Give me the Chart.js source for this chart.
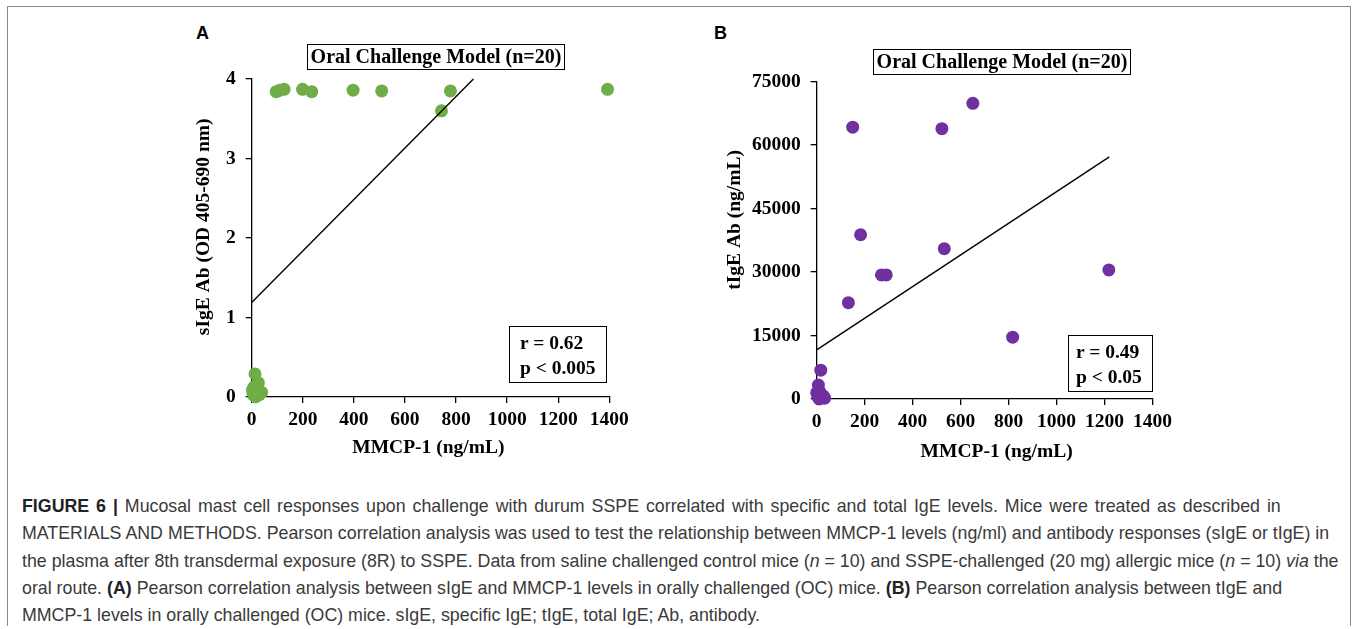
<!DOCTYPE html>
<html>
<head>
<meta charset="utf-8">
<script src="https://cdn.jsdelivr.net/npm/chart.js@4.4.1/dist/chart.umd.min.js"></script>
<style>
  body { margin: 0; background: #fff; width: 1357px; height: 629px; position: relative; overflow: hidden; }
  .frame { position: absolute; left: 7px; top: 6px; width: 1344px; height: 620px; border: 1.5px solid #8a8a8a; border-bottom: none; box-sizing: border-box; }
  canvas { position: absolute; }
  .panel { position: absolute; font-family: 'Liberation Sans', Arial, sans-serif; font-weight: bold; font-size: 18px; }
  .tbox { position: absolute; box-sizing: border-box; border: 1.5px solid #000; font-family: 'Liberation Serif', 'Times New Roman', serif; font-weight: bold; font-size: 20px; text-align: center; line-height: 23px; white-space: nowrap; }
  .rbox { position: absolute; box-sizing: border-box; border: 1.5px solid #000; font-family: 'Liberation Serif', 'Times New Roman', serif; font-weight: bold; font-size: 19.5px; line-height: 25px; white-space: nowrap; }
  .caption { position: absolute; left: 22px; top: 493px; font-family: 'Liberation Sans', Arial, sans-serif; font-size: 17.8px; line-height: 27.3px; color: #3a3a3a; white-space: nowrap; }
  .caption b { color: #222; }
</style>
</head>
<body>
<div class="frame"></div>

<div class="panel" style="left:196px;top:23px">A</div>
<div class="panel" style="left:714px;top:23px">B</div>

<canvas id="chartA" width="490" height="420" style="left:150px;top:50px;width:490px;height:420px"></canvas>
<canvas id="chartB" width="490" height="420" style="left:700px;top:50px;width:490px;height:420px"></canvas>

<div class="tbox" style="left:307px;top:44px;width:258px;height:26px">Oral Challenge Model (n=20)</div>
<div class="tbox" style="left:873px;top:49px;width:258px;height:26px">Oral Challenge Model (n=20)</div>

<div class="rbox" style="left:509px;top:326px;width:98px;height:57px;padding:3px 0 0 10px">r = 0.62<br>p &lt; 0.005</div>
<div class="rbox" style="left:1068px;top:335px;width:85px;height:57px;padding:3px 0 0 7px">r = 0.49<br>p &lt; 0.05</div>

<div class="caption">
<div style="word-spacing:2px"><b>FIGURE 6 |</b> Mucosal mast cell responses upon challenge with durum SSPE correlated with specific and total IgE levels. Mice were treated as described in</div>
<div>MATERIALS AND METHODS. Pearson correlation analysis was used to test the relationship between MMCP-1 levels (ng/ml) and antibody responses (sIgE or tIgE) in</div>
<div>the plasma after 8th transdermal exposure (8R) to SSPE. Data from saline challenged control mice (<i>n</i> = 10) and SSPE-challenged (20 mg) allergic mice (<i>n</i> = 10) <i>via</i> the</div>
<div>oral route. <b>(A)</b> Pearson correlation analysis between sIgE and MMCP-1 levels in orally challenged (OC) mice. <b>(B)</b> Pearson correlation analysis between tIgE and</div>
<div>MMCP-1 levels in orally challenged (OC) mice. sIgE, specific IgE; tIgE, total IgE; Ab, antibody.</div>
</div>

<script>
// panel A: MMCP-1 vs sIgE (OD)
const mmcpA = [13, 26, 39, 3, 8, 15, 20, 5, 10, 30, 96, 110, 127, 199, 235, 397, 509, 743, 778, 1393];
const sigeA = [0.29, 0.18, 0.06, 0.09, 0.02, 0.0, 0.11, 0.05, 0.13, 0.03, 3.84, 3.86, 3.87, 3.87, 3.84, 3.86, 3.85, 3.60, 3.85, 3.87];
const fitAx = [0, 868];
const fitAy = [1.19, 4.0];

// panel B: MMCP-1 vs tIgE (ng/mL)
const mmcpB = [17, 7, 0, 5, 12, 18, 22, 28, 33, 10, 150, 522, 651, 183, 532, 270, 290, 132, 817, 1218];
const tigeB = [6800, 3300, 1500, 500, 1800, 900, 300, 700, 200, 0, 64200, 63850, 69850, 38800, 35500, 29300, 29300, 22750, 14600, 30500];
const fitBx = [0, 1220];
const fitBy = [11600, 57200];

const xTicks = [0, 200, 400, 600, 800, 1000, 1200, 1400];
const yTicksA = [0, 1, 2, 3, 4];
const yTicksB = [0, 15000, 30000, 45000, 60000, 75000];

const serif = "'Liberation Serif', 'Times New Roman', serif";
const tickFont = { family: serif, size: 19.5, weight: 'bold', lineHeight: 1.2 };

// axis titles drawn at Excel-like spots (not always centred on the axis)
const axisTitles = {
    id: 'axisTitles',
    afterDraw(chart, args, opts) {
        const ctx = chart.ctx;
        const a = chart.chartArea;
        ctx.save();
        ctx.font = 'bold 19.5px ' + serif;
        ctx.fillStyle = '#000';
        ctx.textAlign = 'center';
        ctx.textBaseline = 'middle';
        ctx.fillText(opts.xText, a.left + opts.xFrac * (a.right - a.left), opts.xPos);
        ctx.translate(opts.yPos, a.top + opts.yFrac * (a.bottom - a.top));
        ctx.rotate(-Math.PI / 2);
        ctx.fillText(opts.yText, 0, 0);
        ctx.restore();
    }
};

function pts(xs, ys) {
    return xs.map((x, i) => ({ x: x, y: ys[i] }));
}

function makeChart(id, cfg) {
    const ctx = document.getElementById(id).getContext('2d');
    return new Chart(ctx, {
        type: 'scatter',
        plugins: [axisTitles],
        data: {
            datasets: [
                {
                    // trend line first so it is drawn on top
                    data: pts(cfg.fitX, cfg.fitY),
                    showLine: true,
                    borderColor: '#000',
                    borderWidth: 1.4,
                    pointRadius: 0,
                    clip: false
                },
                {
                    data: pts(cfg.xs, cfg.ys),
                    backgroundColor: cfg.color,
                    borderColor: cfg.color,
                    borderWidth: 0,
                    pointRadius: 6.5,
                    clip: false
                }
            ]
        },
        options: {
            responsive: false,
            animation: false,
            layout: { padding: cfg.padding },
            plugins: {
                legend: { display: false },
                tooltip: { enabled: false },
                axisTitles: cfg.titles
            },
            scales: {
                x: {
                    type: 'linear',
                    min: 0,
                    max: 1400,
                    afterBuildTicks: s => { s.ticks = xTicks.map(v => ({ value: v })); },
                    ticks: { color: '#000', font: tickFont, padding: 5, maxRotation: 0, autoSkip: false, callback: v => String(v) },
                    grid: { display: true, drawOnChartArea: false, drawTicks: true, tickLength: 6, color: '#000', lineWidth: 1.3 },
                    border: { display: true, color: '#000', width: 1.3 },
                    afterFit: s => { s.height = cfg.xHeight; }
                },
                y: {
                    type: 'linear',
                    min: 0,
                    max: cfg.yMax,
                    afterBuildTicks: s => { s.ticks = cfg.yTicks.map(v => ({ value: v })); },
                    ticks: { color: '#000', font: tickFont, padding: 10, autoSkip: false, callback: v => String(v) },
                    grid: { display: true, drawOnChartArea: false, drawTicks: true, tickLength: 6, color: '#000', lineWidth: 1.3 },
                    border: { display: true, color: '#000', width: 1.3 },
                    afterFit: s => { s.width = cfg.yWidth; }
                }
            }
        }
    });
}

makeChart('chartA', {
    xs: mmcpA, ys: sigeA, fitX: fitAx, fitY: fitAy,
    color: '#70AD47',
    yMax: 4, yTicks: yTicksA,
    padding: { left: 30, right: 30.7, top: 29, bottom: 10 },
    xHeight: 63, yWidth: 71.7,
    titles: { xText: 'MMCP-1 (ng/mL)', xFrac: 0.494, xPos: 398, yText: 'sIgE Ab (OD 405-690 nm)', yFrac: 0.465, yPos: 54 }
});

makeChart('chartB', {
    xs: mmcpB, ys: tigeB, fitX: fitBx, fitY: fitBy,
    color: '#7030A0',
    yMax: 75000, yTicks: yTicksB,
    padding: { left: 20, right: 37.5, top: 31.5, bottom: 6 },
    xHeight: 65, yWidth: 96.7,
    titles: { xText: 'MMCP-1 (ng/mL)', xFrac: 0.536, xPos: 402, yText: 'tIgE Ab (ng/mL)', yFrac: 0.436, yPos: 35 }
});
</script>
</body>
</html>
